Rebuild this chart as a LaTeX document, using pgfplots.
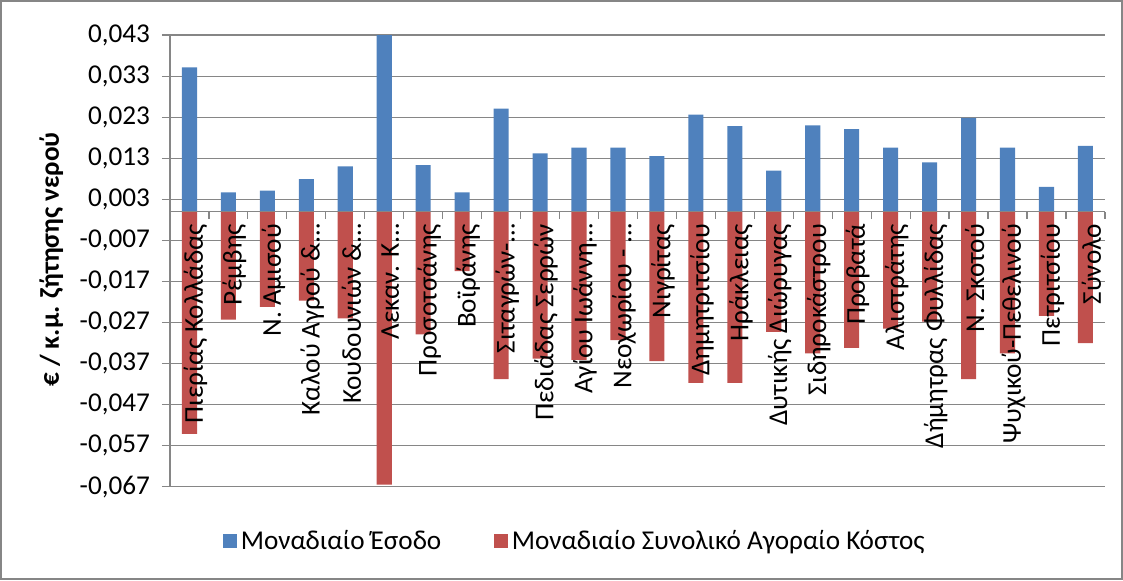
\documentclass[border=0pt]{standalone}
\usepackage{fontspec}
\setmainfont{Carlito}
\usepackage{pgfplots}
\pgfplotsset{compat=1.18}
\definecolor{xblue}{RGB}{79,129,189}
\definecolor{xred}{RGB}{192,80,77}
\definecolor{xgrid}{RGB}{134,134,134}
% grid under the bars, tick labels over them
\pgfplotsset{
  layers/barsmid/.define layer set={axis background,axis grid,main,axis ticks,axis lines,axis tick labels,axis descriptions,axis foreground}{
    grid style={/pgfplots/on layer=axis grid},
    tick style={/pgfplots/on layer=axis ticks},
    axis line style={/pgfplots/on layer=axis lines},
    label style={/pgfplots/on layer=axis descriptions},
    legend style={/pgfplots/on layer=axis descriptions},
    ticklabel style={/pgfplots/on layer=axis tick labels},
  },
}
\newcommand{\lblfont}{\fontsize{13.5}{15}\selectfont}

\begin{document}
\begin{tikzpicture}
\begin{axis}[
    set layers=barsmid,
    width=464.2pt, height=224.3pt, scale only axis,
    xmin=-0.5, xmax=23.5,
    ymin=-0.067, ymax=0.043,
    axis x line=middle, axis y line=left,
    axis line style={-, draw=xgrid, line width=0.6pt},
    tick align=outside,
    ybar, bar width=7.5pt, bar shift=0pt,
    xtick={0,...,23},
    xticklabels={Πιερίας Κολλάδας, Ρέμβης, Ν. Αμισού, Καλού Αγρού \&…, Κουδουνιών \&…, Λεκαν. Κ…,
      Προσοτσάνης, Βοϊράνης, Σιταγρών-…, Πεδιάδας Σερρών, Αγίου Ιωάννη…, Νεοχωρίου - …,
      Νιγρίτας, Δημητριτσίου, Ηράκλειας, Δυτικής Διώρυγας, Σιδηροκάστρου, Προβατά,
      Αλιστράτης, Δήμητρας Φυλλίδας, Ν. Σκοτού, Ψυχικού-Πεθελινού, Πετριτσίου, Σύνολο},
    minor xtick={-0.5,0.5,...,23.5},
    ytick={-0.067,-0.057,-0.047,-0.037,-0.027,-0.017,-0.007,0.003,0.013,0.023,0.033,0.043},
    scaled y ticks=false,
    ymajorgrids,
    grid style={draw=xgrid, line width=0.6pt},
    major tick length=4pt, minor tick length=3.5pt,
    tick style={draw=xgrid, line width=0.6pt},
    every major x tick/.append style={draw=none},
    tick label style={font=\lblfont},
    xticklabel style={rotate=90, anchor=east, inner sep=2pt, yshift=-3pt},
    yticklabel style={/tikz/inner sep=0pt, /tikz/xshift=-5.75pt,
      /pgf/number format/.cd, fixed, fixed zerofill, precision=3, use comma, assume math mode=true},
    every axis y label/.style={at={(axis description cs:-0.127,0.503)}, rotate=90, anchor=center},
    ylabel={\textbf{€ / κ.μ. ζήτησης νερού}},
    label style={font=\lblfont},
    legend style={at={(axis description cs:0.434,-0.12)}, anchor=center, draw=none, fill=none,
      legend columns=2, font=\lblfont,
      /tikz/every even column/.append style={column sep=24pt}},
]
\addplot[fill=xblue, draw=none,
  legend image code/.code={\fill[xblue] (0pt,-3.5pt) rectangle (7pt,3.5pt);}] coordinates {
  (0,0.0351) (1,0.0047) (2,0.0051) (3,0.0079) (4,0.0110) (5,0.0430)
  (6,0.0113) (7,0.0047) (8,0.0251) (9,0.0142) (10,0.0156) (11,0.0156)
  (12,0.0135) (13,0.0236) (14,0.0208) (15,0.0100) (16,0.0210) (17,0.0201)
  (18,0.0156) (19,0.0120) (20,0.0228) (21,0.0156) (22,0.0060) (23,0.0160)
};
\addlegendentry{Μοναδιαίο Έσοδο}
\addplot[fill=xred, draw=none,
  legend image code/.code={\fill[xred] (0pt,-3.5pt) rectangle (7pt,3.5pt);}] coordinates {
  (0,-0.0541) (1,-0.0263) (2,-0.0232) (3,-0.0217) (4,-0.0260) (5,-0.0665)
  (6,-0.0299) (7,-0.0145) (8,-0.0408) (9,-0.0358) (10,-0.0361) (11,-0.0313)
  (12,-0.0364) (13,-0.0417) (14,-0.0417) (15,-0.0293) (16,-0.0345) (17,-0.0332)
  (18,-0.0285) (19,-0.0268) (20,-0.0408) (21,-0.0345) (22,-0.0254) (23,-0.0320)
};
\addlegendentry{Μοναδιαίο Συνολικό Αγοραίο Κόστος}
\end{axis}
\draw[xgrid, line width=1pt]
  ([shift={(-83.9pt,-45.8pt)}]current axis.south west) rectangle
  ([shift={(8.5pt,16.9pt)}]current axis.north east);
\end{tikzpicture}
\end{document}
